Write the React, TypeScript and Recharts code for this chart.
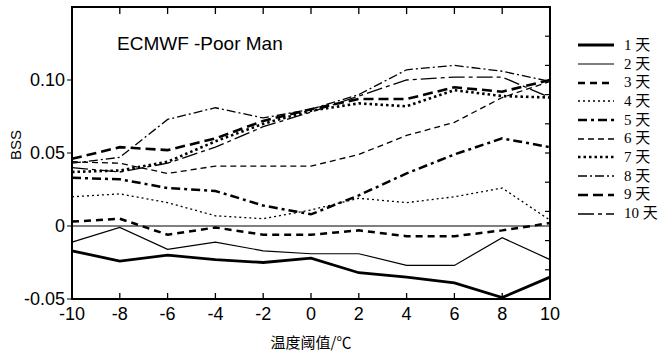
import { LineChart, Line, XAxis, YAxis, ReferenceLine, ReferenceArea } from 'recharts';

// temperature thresholds (x axis)
const thresholds = [-10, -8, -6, -4, -2, 0, 2, 4, 6, 8, 10];

// BSS per lead day
const day1 = [-0.017, -0.024, -0.020, -0.023, -0.025, -0.022, -0.032, -0.035, -0.039, -0.049, -0.035];
const day2 = [-0.011, -0.001, -0.016, -0.011, -0.017, -0.019, -0.019, -0.027, -0.027, -0.008, -0.023];
const day3 = [0.003, 0.005, -0.006, -0.001, -0.006, -0.006, -0.003, -0.007, -0.007, -0.003, 0.002];
const day4 = [0.020, 0.022, 0.016, 0.007, 0.005, 0.011, 0.019, 0.016, 0.020, 0.026, 0.004];
const day5 = [0.033, 0.032, 0.026, 0.024, 0.014, 0.008, 0.021, 0.036, 0.049, 0.060, 0.054];
const day6 = [0.044, 0.043, 0.036, 0.041, 0.041, 0.041, 0.049, 0.062, 0.071, 0.088, 0.099];
const day7 = [0.037, 0.038, 0.044, 0.058, 0.070, 0.079, 0.084, 0.082, 0.093, 0.089, 0.088];
const day8 = [0.043, 0.047, 0.073, 0.081, 0.074, 0.080, 0.090, 0.107, 0.110, 0.106, 0.099];
const day9 = [0.046, 0.054, 0.052, 0.060, 0.072, 0.080, 0.087, 0.087, 0.095, 0.092, 0.100];
const day10 = [0.040, 0.037, 0.043, 0.054, 0.068, 0.078, 0.089, 0.100, 0.102, 0.102, 0.088];

const seriesNames = ['1 天', '2 天', '3 天', '4 天', '5 天', '6 天', '7 天', '8 天', '9 天', '10 天'];
const seriesValues = [day1, day2, day3, day4, day5, day6, day7, day8, day9, day10];

const xTicks = [-10, -8, -6, -4, -2, 0, 2, 4, 6, 8, 10];
const innerXTicks = [-8, -6, -4, -2, 0, 2, 4, 6, 8];
const yTicks = [-0.05, 0, 0.05, 0.1];
const rightTicks = [-0.03, -0.01, 0.01, 0.03, 0.05, 0.07, 0.09, 0.11, 0.13];

// plot box size in px, used to turn tick lengths into data units
const PLOT_W = 663 - 72 - 113;
const PLOT_H = 353 - 7 - 54;
const tickDy = (px: number) => (0.2 * px) / PLOT_H;
const tickDx = (px: number) => (20 * px) / PLOT_W;

// line style per series: width and dash
const STYLES = [
  { w: 2.8, dash: undefined },
  { w: 1.2, dash: undefined },
  { w: 2.5, dash: '7 5' },
  { w: 1.3, dash: '2 3' },
  { w: 2.5, dash: '9 4 3 4' },
  { w: 1.3, dash: '6 4' },
  { w: 2.6, dash: '2.5 3' },
  { w: 1.3, dash: '9 3 2 3' },
  { w: 2.6, dash: '10 5' },
  { w: 1.3, dash: '16 4 4 4' }
];

const data = thresholds.map((t, i) => {
  const row: Record<string, number> = { t };
  seriesValues.forEach((vals, k) => {
    row[`d${k + 1}`] = vals[i];
  });
  return row;
});

const TICK_FONT = { fontFamily: '"Liberation Sans", Arial, sans-serif', fontSize: 18, fill: '#000' };

function SideLegend() {
  return (
    <div style={{ position: 'absolute', left: 578, top: 36, width: 85 }}>
      {seriesNames.map((name, k) => (
        <div key={name} style={{ display: 'flex', alignItems: 'center', height: 18.7 }}>
          <svg width={36} height={10}>
            <line x1={0} x2={36} y1={5} y2={5} stroke="#000" strokeWidth={STYLES[k].w} strokeDasharray={STYLES[k].dash} />
          </svg>
          <span
            style={{
              marginLeft: 10,
              fontFamily: '"Liberation Serif", "Noto Sans CJK SC", serif',
              fontSize: 15,
              color: '#000',
              lineHeight: '15px'
            }}
          >
            {name}
          </span>
        </div>
      ))}
    </div>
  );
}

// frame and inward ticks, drawn in a second chart laid over the first with the same plot box
function FrameOverlay() {
  return (
    <div style={{ position: 'absolute', left: 0, top: 0, pointerEvents: 'none' }}>
      <LineChart width={663} height={353} data={data} margin={{ top: 7, right: 113, bottom: 54, left: 72 }}>
        <XAxis dataKey="t" type="number" domain={[-10, 10]} hide />
        <YAxis type="number" domain={[-0.05, 0.15]} hide />
        <ReferenceArea
          x1={-10}
          x2={10}
          y1={-0.05}
          y2={0.15}
          fill="#fff"
          fillOpacity={0}
          stroke="#000"
          strokeWidth={2}
          ifOverflow="visible"
        />
        {innerXTicks.map((t) => (
          <ReferenceLine
            key={`b${t}`}
            segment={[{ x: t, y: -0.05 }, { x: t, y: -0.05 + tickDy(6) }]}
            stroke="#000"
            strokeWidth={1.3}
            ifOverflow="visible"
          />
        ))}
        {innerXTicks.map((t) => (
          <ReferenceLine
            key={`t${t}`}
            segment={[{ x: t, y: 0.15 }, { x: t, y: 0.15 - tickDy(7) }]}
            stroke="#000"
            strokeWidth={1.3}
            ifOverflow="visible"
          />
        ))}
        {rightTicks.map((v) => (
          <ReferenceLine
            key={`r${v}`}
            segment={[{ x: 10, y: v }, { x: 10 - tickDx(5), y: v }]}
            stroke="#000"
            strokeWidth={1.2}
            ifOverflow="visible"
          />
        ))}
        <Line dataKey="d1" stroke="#000" strokeOpacity={0} dot={false} activeDot={false} isAnimationActive={false} />
      </LineChart>
    </div>
  );
}

export default function App() {
  return (
    <div style={{ position: 'absolute', left: 0, top: 0, width: 663, height: 353, background: '#fff' }}>
      <LineChart width={663} height={353} data={data} margin={{ top: 7, right: 113, bottom: 0, left: 0 }}>
        <XAxis
          dataKey="t"
          type="number"
          domain={[-10, 10]}
          ticks={xTicks}
          height={54}
          tickLine={false}
          tick={TICK_FONT}
          axisLine={{ stroke: '#000', strokeWidth: 1.8 }}
          label={{
            content: (p: any) => (
              <text
                x={p.viewBox.x + p.viewBox.width / 2}
                y={p.viewBox.y + 49}
                textAnchor="middle"
                fontFamily='"Noto Sans CJK SC", sans-serif'
                fontSize={15}
                fill="#000"
              >
                温度阈值/℃
              </text>
            )
          }}
        />
        <YAxis
          type="number"
          domain={[-0.05, 0.15]}
          ticks={yTicks}
          width={72}
          tickSize={5}
          tick={TICK_FONT}
          axisLine={{ stroke: '#000', strokeWidth: 1.8 }}
          stroke="#000"
          tickFormatter={(v: number) => (v === 0 ? '0' : v.toFixed(2))}
          label={{
            content: (p: any) => {
              const cx = p.viewBox.x + 16;
              const cy = p.viewBox.y + p.viewBox.height / 2 - 8;
              return (
                <text
                  x={cx}
                  y={cy}
                  transform={`rotate(-90 ${cx} ${cy})`}
                  textAnchor="middle"
                  dy="0.35em"
                  fontFamily='"Liberation Sans", Arial, sans-serif'
                  fontSize={15}
                  fill="#000"
                >
                  BSS
                </text>
              );
            }
          }}
        />
        <ReferenceLine y={0} stroke="#000" strokeWidth={1.1} />
        {seriesNames.map((name, k) => (
          <Line
            key={name}
            dataKey={`d${k + 1}`}
            name={name}
            stroke="#000"
            strokeWidth={STYLES[k].w}
            strokeDasharray={STYLES[k].dash}
            dot={false}
            activeDot={false}
            isAnimationActive={false}
          />
        ))}
      </LineChart>
      <FrameOverlay />
      <SideLegend />
      <div
        style={{
          position: 'absolute',
          left: 117,
          top: 34,
          fontFamily: '"Liberation Sans", Arial, sans-serif',
          fontSize: 19,
          lineHeight: '19px',
          color: '#000',
          whiteSpace: 'nowrap'
        }}
      >
        ECMWF -Poor Man
      </div>
    </div>
  );
}
